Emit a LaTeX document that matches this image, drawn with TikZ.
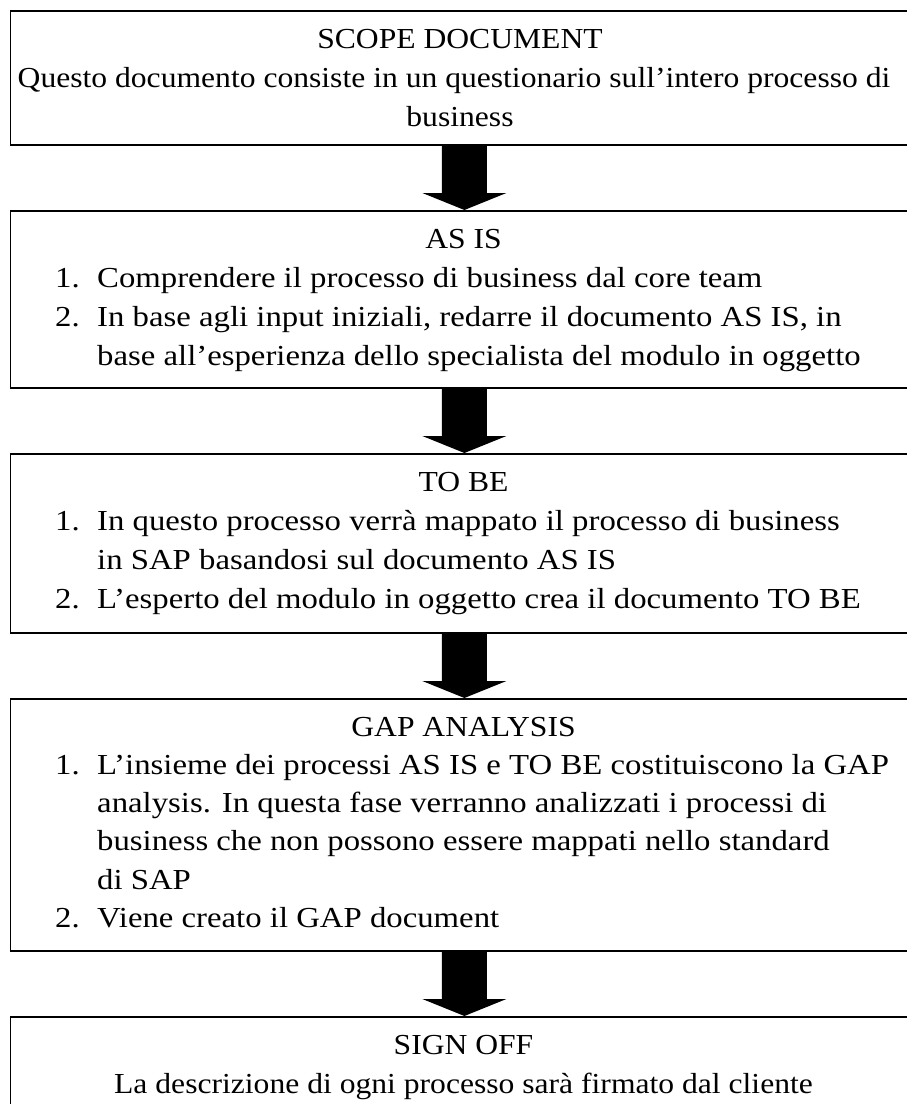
\documentclass[tikz,border=0pt]{standalone}
\usepackage{fontspec}
\setmainfont[FakeStretch=1.09]{Liberation Serif}
\newfontfamily\widefont[FakeStretch=1.13]{Liberation Serif}
\usetikzlibrary{calc}
\tikzset{
  box/.style={draw, line width=1.8pt, anchor=north west, inner sep=0pt, minimum width=908pt},
  ttl/.style={anchor=base, inner sep=0pt, font=\fontsize{29pt}{38pt}\selectfont},
  txt/.style={anchor=base west, inner sep=0pt, font=\widefont\fontsize{29pt}{38pt}\selectfont},
}
\newcommand\flowarrow[2]{%
  \fill[black] ($(#1.south)+(-22.5pt,0pt)$) -- ($(#2.north)+(-22.5pt,17pt)$) -- ($(#2.north)+(-42pt,17pt)$)
    -- (#2.north) -- ($(#2.north)+(42pt,17pt)$) -- ($(#2.north)+(22.5pt,17pt)$) -- ($(#1.south)+(22.5pt,0pt)$) -- cycle;}
\begin{document}
\begin{tikzpicture}[x=1pt,y=-1pt]
\useasboundingbox (0,0) rectangle (907,1104);
% boxes
\node[box, minimum height=134pt] (b1) at (9.5,10) {};
\node[box, minimum height=177pt] (b2) at (9.5,210) {};
\node[box, minimum height=179pt] (b3) at (9.5,453) {};
\node[box, minimum height=252pt] (b4) at (9.5,698) {};
\node[box, minimum height=120pt] (b5) at (9.5,1016) {};
% arrows
\flowarrow{b1}{b2}
\flowarrow{b2}{b3}
\flowarrow{b3}{b4}
\flowarrow{b4}{b5}
% box 1
\node[ttl] (t1) at (460,48) {SCOPE DOCUMENT};
\node[ttl] (t1a) at (454,87) {Questo documento consiste in un questionario sull’intero processo di};
\node[ttl] (t1b) at (460,126) {business};
% box 2
\node[ttl] (t2) at (463.5,248) {AS IS};
\node[txt] (n21) at (55,287) {1.};
\node[txt] (i21) at (97,287) {Comprendere il processo di business dal core team};
\node[txt] (n22) at (55,326) {2.};
\node[txt] (i22a) at (97,326) {In base agli input iniziali, redarre il documento AS IS, in};
\node[txt] (i22b) at (97,365) {base all’esperienza dello specialista del modulo in oggetto};
% box 3
\node[ttl] (t3) at (463.5,491) {TO BE};
\node[txt] (n31) at (55,530) {1.};
\node[txt] (i31a) at (97,530) {In questo processo verrà mappato il processo di business};
\node[txt] (i31b) at (97,569) {in SAP basandosi sul documento AS IS};
\node[txt] (n32) at (55,608) {2.};
\node[txt] (i32) at (97,608) {L’esperto del modulo in oggetto crea il documento TO BE};
% box 4
\node[ttl] (t4) at (463.5,736) {GAP ANALYSIS};
\node[txt] (n41) at (55,774) {1.};
\node[txt] (i41a) at (97,774) {L’insieme dei processi AS IS e TO BE costituiscono la GAP};
\node[txt] (i41b) at (97,812) {analysis. In questa fase verranno analizzati i processi di};
\node[txt] (i41c) at (97,850) {business che non possono essere mappati nello standard};
\node[txt] (i41d) at (97,889) {di SAP};
\node[txt] (n42) at (55,927) {2.};
\node[txt] (i42) at (97,927) {Viene creato il GAP document};
% box 5
\node[ttl] (t5) at (463.5,1054) {SIGN OFF};
\node[ttl] (t5a) at (463.5,1093) {La descrizione di ogni processo sarà firmato dal cliente};
\end{tikzpicture}
\end{document}
